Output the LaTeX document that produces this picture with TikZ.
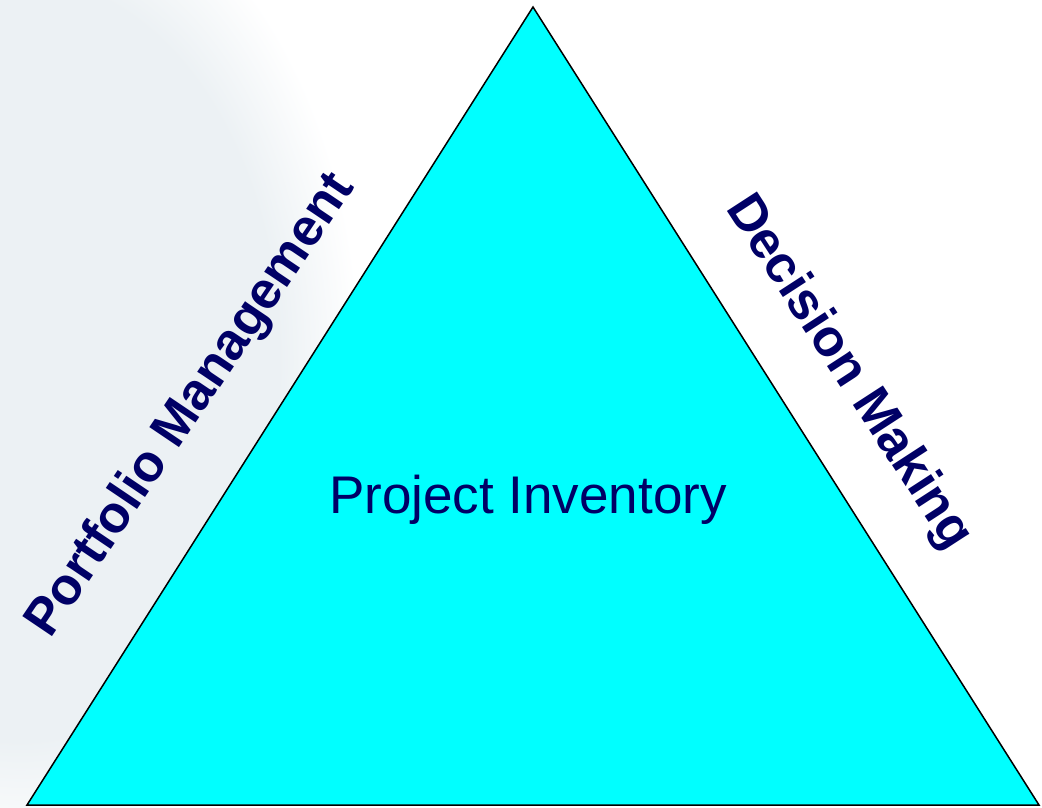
\documentclass[tikz,border=0pt]{standalone}
\usepackage{fontspec}
\setmainfont{Liberation Sans}
\definecolor{navy}{RGB}{0,0,102}
\definecolor{aqua}{RGB}{0,255,255}
\definecolor{blob}{RGB}{236,241,244}
\pgfdeclareradialshading{blobshade}{\pgfpoint{0bp}{0bp}}{color(0bp)=(blob); color(19bp)=(blob); color(25bp)=(white); color(50bp)=(white)}
\tikzset{
  sidelabel/.style={inner sep=0pt, text=navy, font=\fontsize{52}{60}\selectfont\bfseries},
  centerlabel/.style={inner sep=0pt, text=navy, font=\fontsize{53}{60}\selectfont},
  tri/.style={draw=black, line width=1.5pt, fill=aqua, line join=miter}
}
\begin{document}
\begin{tikzpicture}[x=1pt,y=-1pt]
\useasboundingbox (0,0) rectangle (1042,807);
\fill[white] (0,0) rectangle (1042,807);
\begin{scope}
\clip (0,0) rectangle (1042,807);
\shade[shading=blobshade] (20,360) ellipse [x radius=340, y radius=500];
\end{scope}
\coordinate (A) at (533,7);
\coordinate (B) at (27,805);
\coordinate (C) at (1039,805);
\draw[tri] (A) -- (B) -- (C) -- cycle;
\node[sidelabel, rotate=56, anchor=base west] (pm) at (50,640) {Portfolio Management};
\node[sidelabel, rotate=-57, anchor=base west] (dm) at (725,208) {Decision Making};
\node[centerlabel, anchor=base] (pi) at (528,513) {Project Inventory};
\end{tikzpicture}
\end{document}
